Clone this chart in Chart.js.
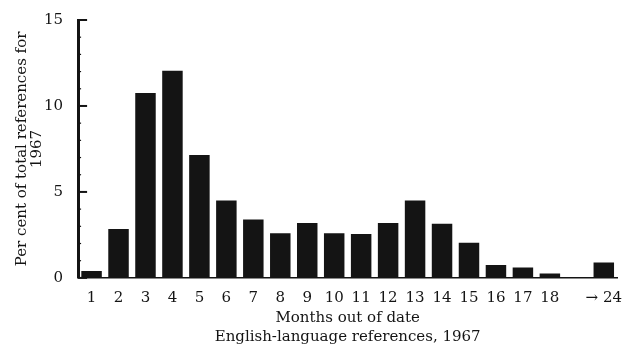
<!DOCTYPE html>
<html>
<head>
<meta charset="utf-8">
<script src="https://cdn.jsdelivr.net/npm/chart.js@4"></script>
<style>
  html, body { margin:0; padding:0; background:#fff; }
  #wrap { width:624px; height:348px; }
</style>
</head>
<body>
<div id="wrap"><canvas id="refChart"></canvas></div>
<script>
const MONTHS = ['1','2','3','4','5','6','7','8','9','10','11','12','13','14','15','16','17','18','','\u2192 24'];
const PERCENT = [0.4, 2.85, 10.75, 12.05, 7.15, 4.5, 3.4, 2.6, 3.2, 2.6, 2.55, 3.2, 4.5, 3.15, 2.05, 0.75, 0.6, 0.25, null, 0.9];
const Y_TICKS = [0, 5, 10, 15];
const X_TITLE = ['Months out of date', 'English-language references, 1967'];
const Y_TITLE = ['Per cent of total references for', '1967'];

const INK = '#141414';
const SERIF = '"DejaVu Serif", "Liberation Serif", serif';

// ticks on this chart point inwards, one small one per unit
const innerTicks = {
  id: 'innerTicks',
  afterDraw(c){
    const y = c.scales.y, ctx = c.ctx, x0 = c.chartArea.left;
    ctx.save();
    ctx.strokeStyle = INK;
    for(let v = y.min; v <= y.max; v++){
      const py = y.getPixelForValue(v);
      const major = Y_TICKS.includes(v);
      ctx.lineWidth = major ? 2 : 1.2;
      ctx.beginPath();
      ctx.moveTo(x0, py);
      ctx.lineTo(x0 + (major ? 9 : 3), py);
      ctx.stroke();
    }
    ctx.restore();
  }
};

new Chart(document.getElementById('refChart'), {
  type: 'bar',
  data: {
    labels: MONTHS,
    datasets: [{ data: PERCENT, backgroundColor: INK, barPercentage: 0.76, categoryPercentage: 1 }]
  },
  options: {
    responsive: true,
    maintainAspectRatio: false,
    animation: false,
    layout: { padding: { left: 15, right: 0, top: 20, bottom: 1 } },
    plugins: { legend: { display: false }, tooltip: { enabled: false } },
    scales: {
      x: {
        // invisible tick marks just push the labels down without widening the right edge
        grid: { display: true, drawOnChartArea: false, drawTicks: true, tickLength: 9, tickColor: 'rgba(0,0,0,0)' },
        border: { display: true, color: INK, width: 1.5 },
        ticks: { color: INK, padding: 2, maxRotation: 0, autoSkip: false, font: { family: SERIF, size: 15 } },
        title: { display: true, text: X_TITLE, color: INK, padding: { top: 0, bottom: 0 }, font: { family: SERIF, size: 15, lineHeight: 1.27 } }
      },
      y: {
        min: 0, max: 15,
        afterBuildTicks: s => { s.ticks = Y_TICKS.map(v => ({ value: v })); },
        afterFit: s => { s.paddingTop = 0; },
        grid: { display: false, drawTicks: false },
        border: { display: true, color: INK, width: 3 },
        ticks: { color: INK, padding: 15, font: { family: SERIF, size: 15 } },
        title: { display: true, text: Y_TITLE, color: INK, padding: { top: 0, bottom: -16 }, font: { family: SERIF, size: 15, lineHeight: 1.0 } }
      }
    }
  },
  plugins: [innerTicks]
});
</script>
</body>
</html>
